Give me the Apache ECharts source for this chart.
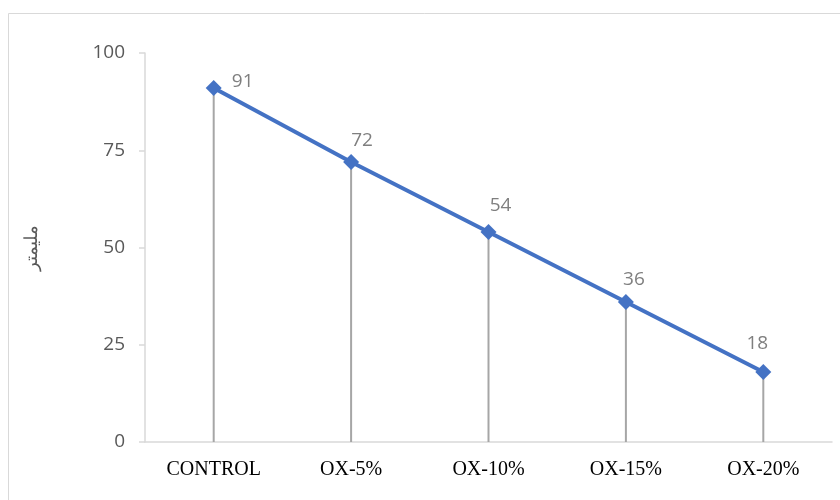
<!DOCTYPE html>
<html>
<head>
<meta charset="utf-8">
<style>
  html, body { margin: 0; padding: 0; background: #fff; }
  #chart { width: 840px; height: 500px; }
</style>
<script src="https://cdn.jsdelivr.net/npm/echarts@6/dist/echarts.min.js"></script>
</head>
<body>
<div id="chart"></div>
<script>
// Measured values per sample
const categories = ['CONTROL', 'OX-5%', 'OX-10%', 'OX-15%', 'OX-20%'];
const values = [91, 72, 54, 36, 18];
const yTicks = [0, 25, 50, 75, 100];
const yAxisTitle = 'مليمتر';

// Label placement around each diamond so the numbers clear the line
const labelOffsets = [[29, -6], [11, -21], [12, -26], [8, -22], [-6, -28]];

const chart = echarts.init(document.getElementById('chart'), null, { renderer: 'canvas' });

chart.setOption({
  animation: false,
  backgroundColor: '#ffffff',
  graphic: [{
    type: 'rect',
    shape: { x: 8.5, y: 13.5, width: 840, height: 500 },
    style: { fill: 'none', stroke: '#d9d9d9', lineWidth: 1 },
    silent: true
  }],
  grid: { left: 145, right: 8, top: 53, bottom: 58, containLabel: false },
  xAxis: {
    type: 'category',
    data: categories,
    boundaryGap: true,
    axisLine: { show: true, lineStyle: { color: '#d9d9d9', width: 1.5 } },
    axisTick: { show: false },
    axisLabel: {
      color: '#000000',
      fontFamily: 'Liberation Serif',
      fontSize: 20,
      margin: 18
    },
    splitLine: { show: false }
  },
  yAxis: {
    type: 'value',
    min: yTicks[0],
    max: yTicks[yTicks.length - 1],
    interval: 25,
    name: yAxisTitle,
    nameLocation: 'middle',
    nameRotate: 90,
    nameGap: 90,
    nameTextStyle: {
      color: '#595959',
      fontFamily: 'Noto Sans',
      fontSize: 18,
      padding: [0, 0, 14, 0]
    },
    axisLine: { show: true, lineStyle: { color: '#d9d9d9', width: 1.5 } },
    axisTick: { show: true, length: 6, lineStyle: { color: '#d9d9d9', width: 1.5 } },
    axisLabel: {
      color: '#595959',
      fontFamily: 'Open Sans',
      fontSize: 19,
      margin: 20
    },
    splitLine: { show: false }
  },
  series: [
    {
      // drop lines from each point down to the axis
      type: 'bar',
      data: values,
      barWidth: 2,
      itemStyle: { color: '#a6a6a6' },
      silent: true,
      z: 1
    },
    {
      type: 'line',
      data: values.map((v, i) => ({
        value: v,
        label: { offset: labelOffsets[i] }
      })),
      symbol: 'diamond',
      symbolSize: 16,
      lineStyle: { color: '#4472c4', width: 4 },
      itemStyle: { color: '#4472c4' },
      label: {
        show: true,
        position: 'inside',
        color: '#7f7f7f',
        fontFamily: 'Open Sans',
        fontSize: 19
      },
      z: 3
    }
  ]
});
</script>
</body>
</html>
